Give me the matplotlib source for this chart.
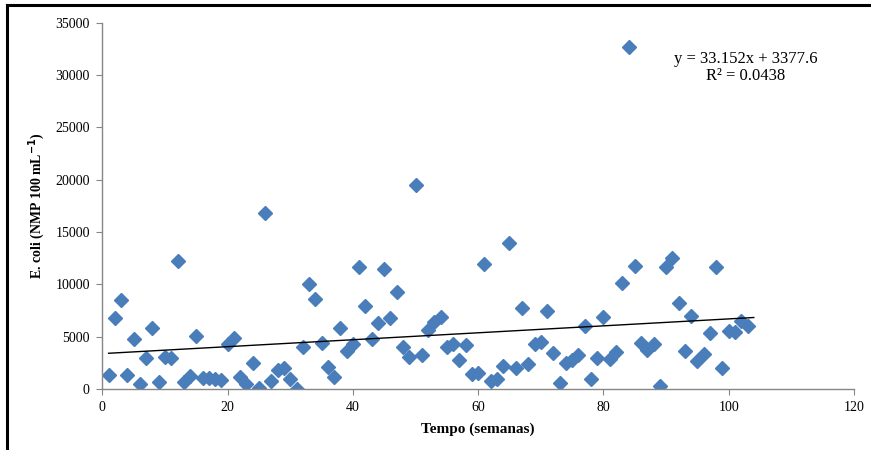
import numpy as np
import matplotlib
matplotlib.use('Agg')
import matplotlib.pyplot as plt
from matplotlib.lines import Line2D

plt.rcParams['font.family'] = 'Liberation Serif'

# semanas 1..103 e contagem de E. coli (NMP 100 mL-1)
semanas = list(range(1, 104))
ecoli = [1310, 6780, 8500, 1310, 4730, 510, 3000, 5820, 700, 3100,
         2940, 12200, 700, 1250, 5080, 1090, 1090, 990, 830, 4250,
         4890, 1120, 510, 2490, 50, 16840, 790, 1790, 2030, 955,
         0, 3980, 10060, 8630, 4430, 2130, 1180, 5860, 3630, 4270,
         11650, 7960, 4740, 6340, 11430, 6750, 9300, 4040, 3090, 19450,
         3250, 5600, 6370, 6850, 3980, 4270, 2770, 4200, 1430, 1500,
         11970, 790, 930, 2230, 13920, 1980, 7700, 2390, 4270, 4460,
         7450, 3410, 600, 2450, 2770, 3280, 6020, 930, 2990, 6880,
         2840, 3500, 10090, 32640, 11780, 4430, 3720, 4300, 290, 11620,
         12510, 8240, 3600, 6970, 2670, 3310, 5320, 11680, 1980, 5570,
         5470, 6520, 6020]

# linha de tendencia (Excel)
slope = 33.152
intercept = 3377.6
r2 = 0.0438
trend_x = [1, 104]

fig = plt.figure(figsize=(8.71, 4.5), dpi=100)
ax = fig.add_axes([0.1175, 0.1356, 0.8630, 0.8144])

ax.plot(semanas, ecoli, linestyle='none', marker='D', markersize=6.8,
        color='#4A7EBB', markeredgecolor='#4A7EBB')
tx = np.array(trend_x, dtype=float)
ax.plot(tx, slope * tx + intercept, color='black', linewidth=1.0)

ax.set_xlim(0, 120)
ax.set_ylim(0, 35000)
ax.set_xticks(range(0, 121, 20))
ax.set_yticks(range(0, 35001, 5000))
for s in ['top', 'right']:
    ax.spines[s].set_visible(False)
for s in ['left', 'bottom']:
    ax.spines[s].set_color('#868686')
    ax.spines[s].set_linewidth(1.0)
ax.tick_params(axis='both', direction='out', length=4, color='#868686',
               labelsize=10, pad=5)

ax.set_xlabel('Tempo (semanas)', fontsize=11, fontweight='bold', labelpad=6)
ax.set_ylabel('E. coli (NMP 100 mL$^{\\mathbf{-1}}$)', fontsize=10,
              fontweight='bold', labelpad=6)

ax.text(0.8555, 0.878, 'y = 33.152x + 3377.6\nR² = 0.0438',
        transform=ax.transAxes, ha='center', va='center', fontsize=12,
        linespacing=1.05)

# moldura (so topo e esquerda visiveis)
fig.add_artist(Line2D([0.0075, 1.0], [0.9878, 0.9878], color='black',
                      linewidth=2.2, transform=fig.transFigure))
fig.add_artist(Line2D([0.0075, 0.0075], [0.0, 0.9878], color='black',
                      linewidth=2.2, transform=fig.transFigure))

fig.savefig('out.png', dpi=100)
